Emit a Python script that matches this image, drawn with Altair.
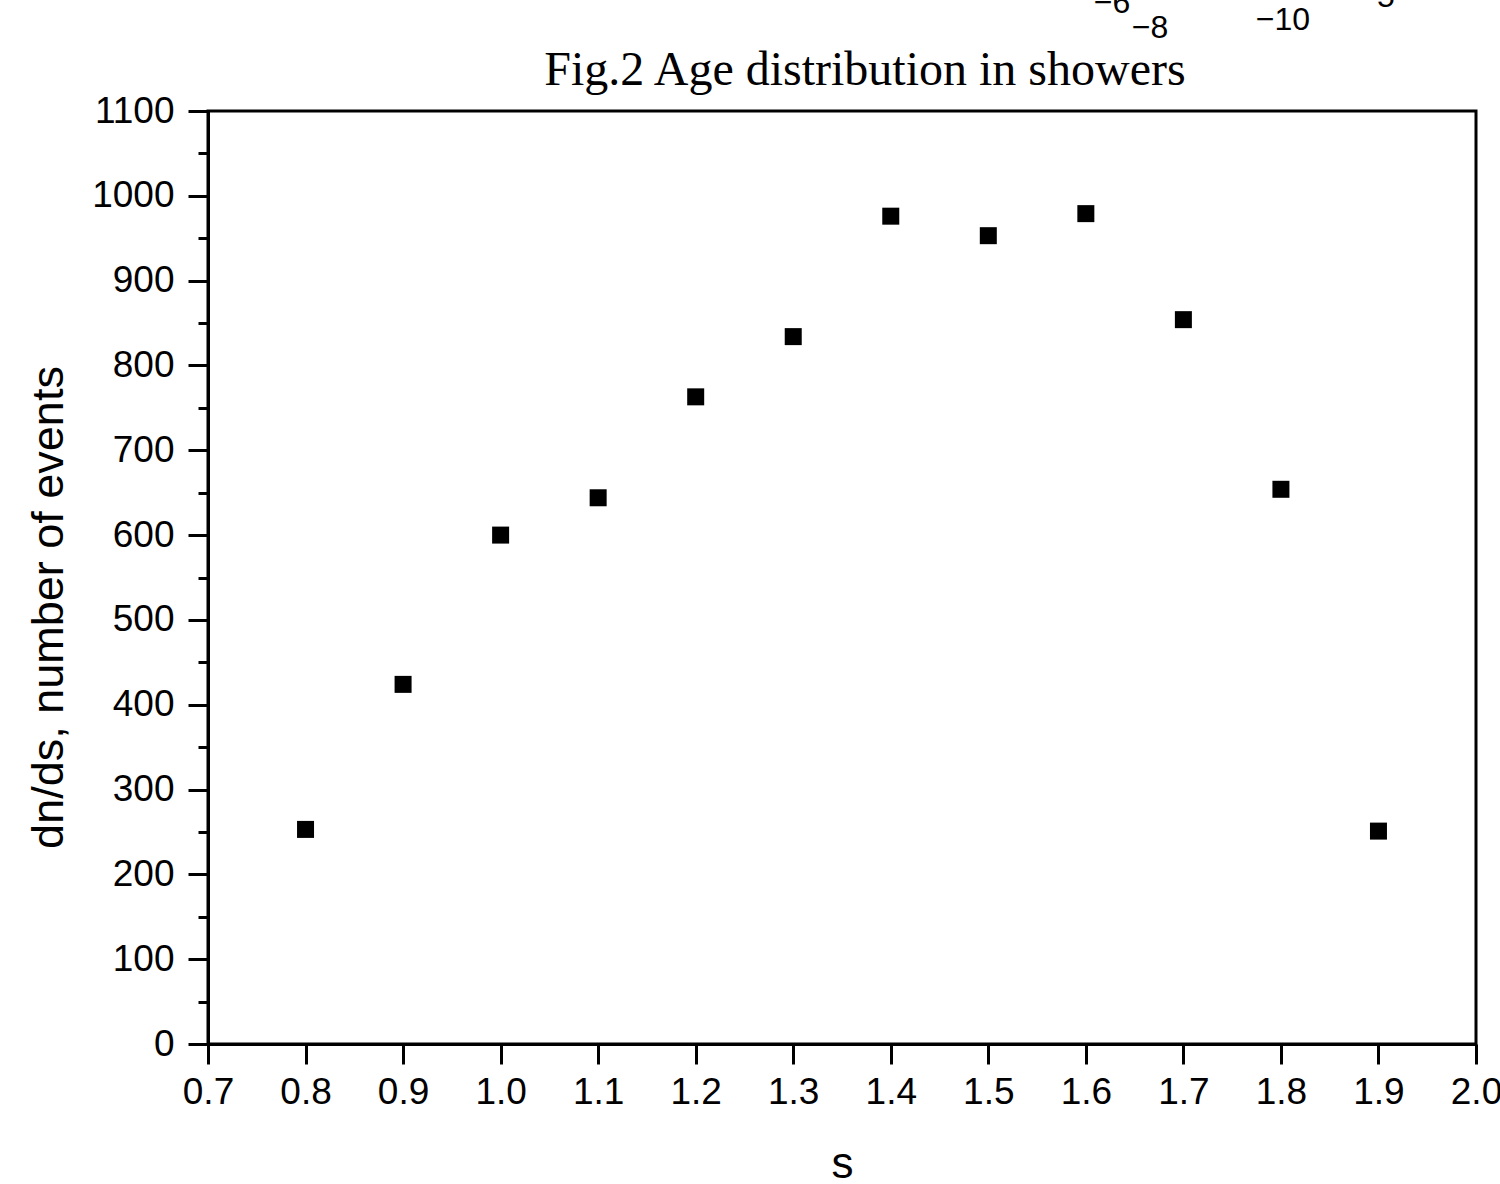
import altair as alt
import pandas as pd

# ---- data ----
s_values = [0.8, 0.9, 1.0, 1.1, 1.2, 1.3, 1.4, 1.5, 1.6, 1.7, 1.8, 1.9]
counts = [253, 424, 600, 644, 763, 834, 976, 953, 979, 854, 654, 251]

x_ticks = [0.7, 0.8, 0.9, 1.0, 1.1, 1.2, 1.3, 1.4, 1.5, 1.6, 1.7, 1.8, 1.9, 2.0]
y_major = list(range(0, 1101, 100))
y_minor = list(range(0, 1101, 50))

title_text = "Fig.2 Age distribution in showers"
x_title = "s"
y_title = "dn/ds, number of events"
fragments = ["\u22126", "\u22128", "\u221210", "5"]

df = pd.DataFrame({"s": s_values, "n": counts})

W, H = 1268, 933
SANS = "Liberation Sans"
SERIF = "Liberation Serif"

xscale = alt.Scale(domain=[0.7, 2.0], nice=False, zero=False)
yscale = alt.Scale(domain=[0, 1100], nice=False)

points = alt.Chart(df).mark_square(size=289, color="black", opacity=1).encode(
    x=alt.X("s:Q", scale=xscale,
            axis=alt.Axis(values=x_ticks, format=".1f", title=x_title,
                          tickSize=20, tickWidth=3, domainWidth=3,
                          domainColor="black", tickColor="black",
                          labelFontSize=37, labelFont=SANS, labelColor="black",
                          labelPadding=10, labelFlush=False, labelOverlap=False,
                          titleFont=SANS, titleFontSize=44, titleFontWeight="normal",
                          titleColor="black", titleY=133, titleBaseline="alphabetic",
                          grid=False)),
    y=alt.Y("n:Q", scale=yscale,
            axis=alt.Axis(values=y_major, format="d", title=y_title, orient="left",
                          tickSize=20, tickWidth=3, domainWidth=3,
                          domainColor="black", tickColor="black",
                          labelFontSize=37, labelFont=SANS, labelColor="black",
                          labelPadding=14, labelFlush=False, labelOverlap=False,
                          titleFont=SANS, titleFontSize=45, titleFontWeight="normal",
                          titleColor="black", titleX=-146, titleY=496,
                          titleAngle=-90, titleAlign="center",
                          titleBaseline="alphabetic", grid=False)),
)

minor = alt.Chart(df).mark_square(opacity=0).encode(
    x=alt.X("s:Q", scale=xscale, axis=None),
    y=alt.Y("n:Q", scale=yscale,
            axis=alt.Axis(values=y_minor, orient="left", labels=False,
                          domain=False, tickSize=10, tickWidth=3,
                          tickColor="black", title=None, grid=False)),
)

title_mark = alt.Chart(pd.DataFrame({"t": [title_text]})).mark_text(
    font=SERIF, fontSize=48, color="black", align="center", baseline="alphabetic"
).encode(text="t:N", x=alt.value(865 - 208), y=alt.value(85 - 111))

frag_layers = []
frag_pos = [(1112, 13), (1150, 38), (1283, 30), (1386, 7)]
for txt, (px, py) in zip(fragments, frag_pos):
    frag_layers.append(
        alt.Chart(pd.DataFrame({"t": [txt]})).mark_text(
            font=SANS, fontSize=32, color="black", align="center",
            baseline="alphabetic"
        ).encode(text="t:N", x=alt.value(px - 208), y=alt.value(py - 111))
    )

chart = alt.layer(points, minor, title_mark, *frag_layers).resolve_axis(
    y="independent", x="independent"
).resolve_scale(y="shared", x="shared").properties(
    width=W, height=H,
    autosize="none",
    padding={"left": 208, "top": 111, "right": 24, "bottom": 140},
    background="white",
).configure_view(stroke="black", strokeWidth=3)

chart.save("out.html", embed_options={"renderer": "svg", "actions": False})
